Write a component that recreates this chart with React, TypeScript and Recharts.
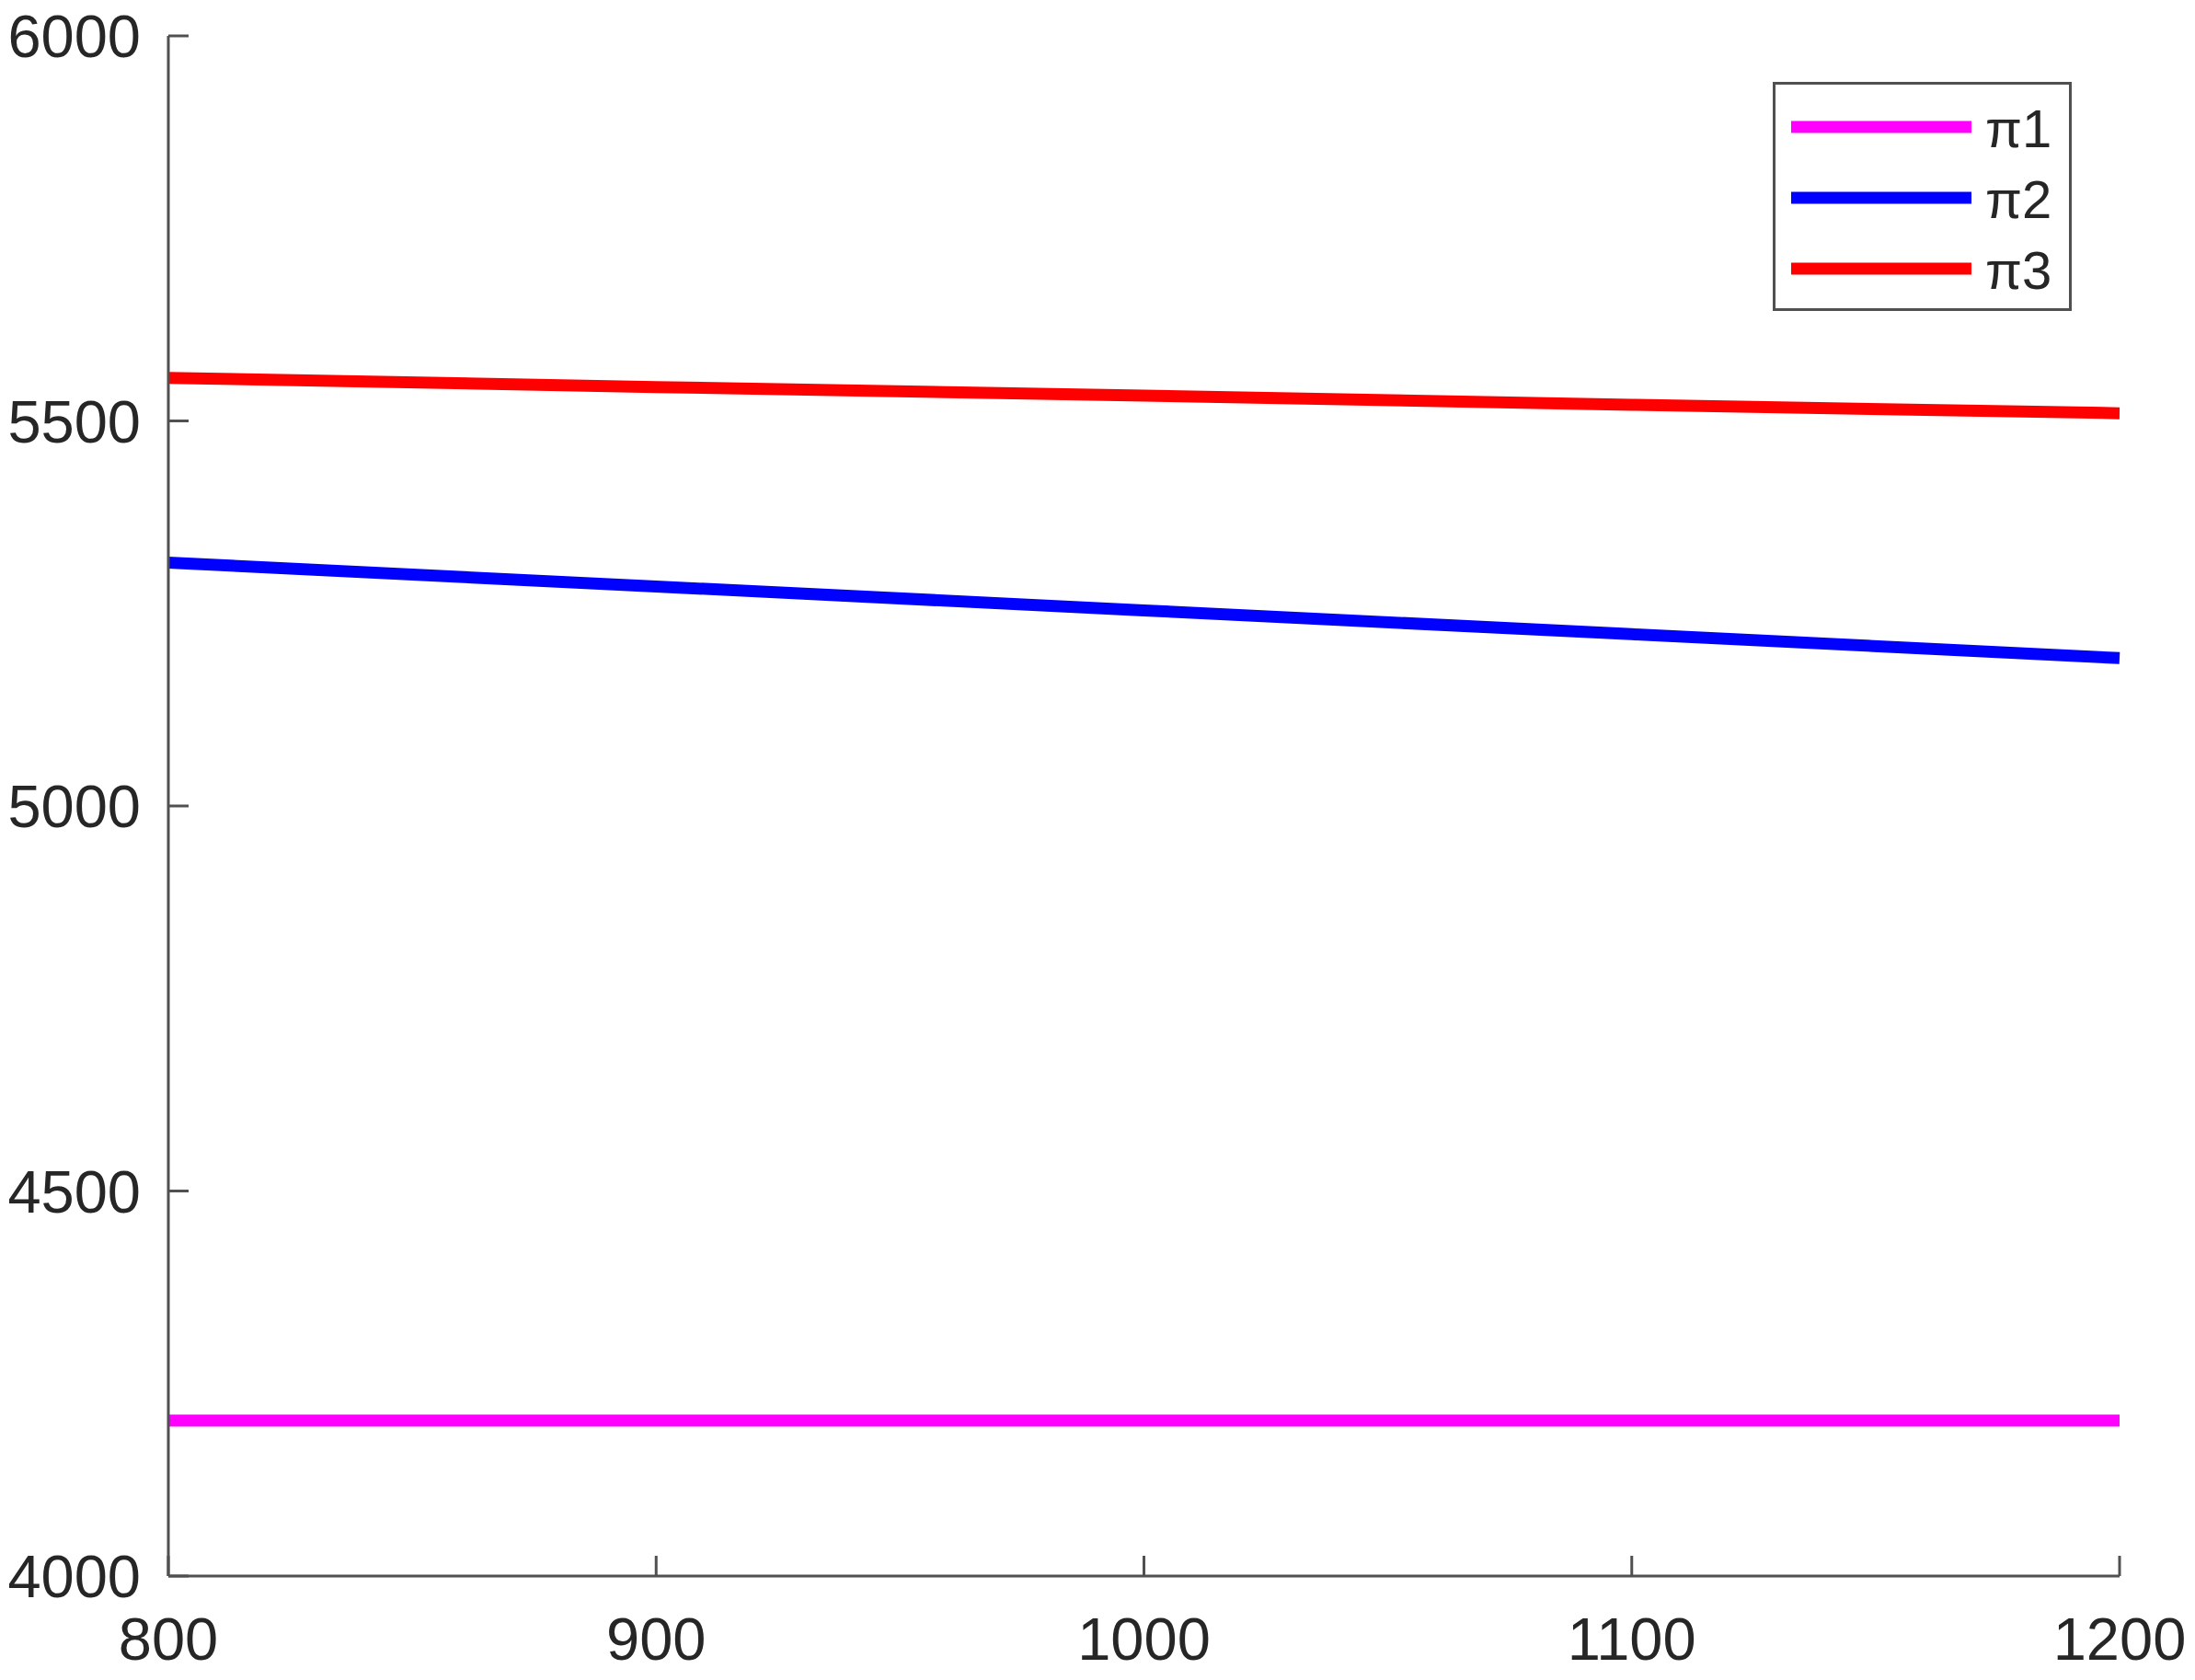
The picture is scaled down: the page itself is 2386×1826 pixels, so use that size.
import React from 'react';
import { LineChart, Line, XAxis, YAxis, Legend } from 'recharts';

const xValues = [800, 900, 1000, 1100, 1200];
const pi1 = [4202, 4202, 4202, 4202, 4202];
const pi2 = [5316, 5285, 5254, 5223, 5192];
const pi3 = [5556, 5544, 5533, 5521, 5510];

const xTicks = [800, 900, 1000, 1100, 1200];
const yTicks = [4000, 4500, 5000, 5500, 6000];

const data = xValues.map((x, i) => ({ x, pi1: pi1[i], pi2: pi2[i], pi3: pi3[i] }));

const AXIS = '#505050';
const TEXT = '#262626';
const FONT = '"Liberation Sans", Arial, sans-serif';

// MATLAB-style ticks point into the plot
const YTick = (props: any) => {
  const { x, y, payload } = props;
  return (
    <g>
      <line x1={x + 30} x2={x + 52} y1={y} y2={y} stroke={AXIS} strokeWidth={3} />
      <text x={x} y={y} dy="0.36em" textAnchor="end" fill={TEXT} fontSize={65} fontFamily={FONT}>
        {payload.value}
      </text>
    </g>
  );
};

const XTick = (props: any) => {
  const { x, y, payload } = props;
  return (
    <g>
      <line x1={x} x2={x} y1={y - 45} y2={y - 67} stroke={AXIS} strokeWidth={3} />
      <text x={x} y={y} dy="0.71em" textAnchor="middle" fill={TEXT} fontSize={65} fontFamily={FONT}>
        {payload.value}
      </text>
    </g>
  );
};

const renderLegend = (props: any) => {
  const { payload } = props;
  return (
    <svg width={325} height={249}>
      <rect x={1.5} y={1.5} width={322} height={246} fill="#fff" stroke={AXIS} strokeWidth={3} />
      {payload.map((entry: any, i: number) => (
        <g key={entry.value}>
          <line x1={20} x2={216} y1={49 + i * 77} y2={49 + i * 77} stroke={entry.color} strokeWidth={13} />
          <text x={231} y={49 + i * 77} dy="0.38em" fill={TEXT} fontSize={58} fontFamily={FONT}>
            {entry.value}
          </text>
        </g>
      ))}
    </svg>
  );
};

export default function App() {
  return (
    <div style={{ width: 2386, height: 1826, margin: '-8px 0 0 -8px', background: '#fff' }}>
      <LineChart width={2386} height={1826} data={data} margin={{ top: 39, right: 82, bottom: 0, left: 0 }}>
        <XAxis
          dataKey="x"
          type="number"
          domain={[800, 1200]}
          ticks={xTicks}
          height={113}
          tickSize={0}
          tickMargin={45}
          tick={<XTick />}
          stroke={AXIS}
          strokeWidth={3}
          interval={0}
        />
        <YAxis
          type="number"
          domain={[4000, 6000]}
          ticks={yTicks}
          width={183}
          tickSize={0}
          tickMargin={30}
          tick={<YTick />}
          stroke={AXIS}
          strokeWidth={3}
          interval={0}
        />
        <Legend
          content={renderLegend}
          layout="horizontal"
          verticalAlign="middle"
          align="center"
          wrapperStyle={{ position: 'absolute', left: 1927, top: 89, width: 325, height: 249 }}
        />
        <Line dataKey="pi1" name="π1" stroke="#FF00FF" strokeWidth={13} dot={false} isAnimationActive={false} />
        <Line dataKey="pi2" name="π2" stroke="#0000FF" strokeWidth={13} dot={false} isAnimationActive={false} />
        <Line dataKey="pi3" name="π3" stroke="#FF0000" strokeWidth={13} dot={false} isAnimationActive={false} />
      </LineChart>
    </div>
  );
}
